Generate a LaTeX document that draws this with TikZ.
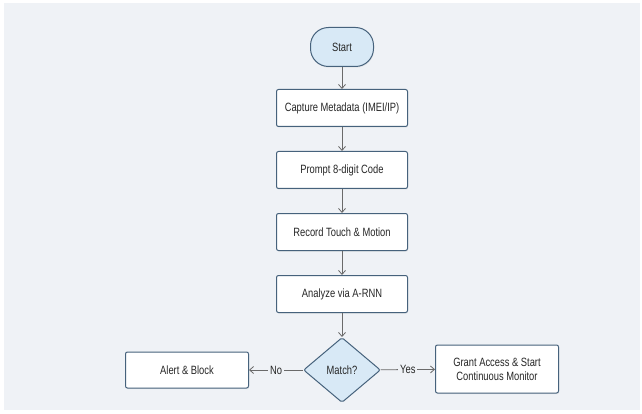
\documentclass[tikz,border=0pt]{standalone}
\usepackage{fontspec}
\setmainfont{Liberation Sans}[FakeStretch=0.78]
\usepackage{tikz}
\usetikzlibrary{shapes,arrows,arrows.meta,positioning,shadows}

\definecolor{bgcol}{HTML}{EFF2F6}
\definecolor{edgecol}{HTML}{46627C}
\definecolor{fillblue}{HTML}{D8E9F6}
\definecolor{txtcol}{HTML}{262626}
\definecolor{arrcol}{HTML}{6A6A6A}

\begin{document}
\begin{tikzpicture}[x=1pt, y=-1pt,
    every node/.style={text=txtcol, font=\fontsize{12}{14}\selectfont},
    stepbox/.style={rectangle, draw=edgecol, line width=1pt, fill=white, rounded corners=2pt,
        minimum width=131pt, minimum height=37pt, align=center,
        drop shadow={opacity=0.12, shadow xshift=0.6pt, shadow yshift=-1.2pt}},
    startbox/.style={rectangle, draw=edgecol, line width=1pt, fill=fillblue, rounded corners=18pt,
        minimum width=63pt, minimum height=39pt,
        drop shadow={opacity=0.12, shadow xshift=0.6pt, shadow yshift=-1.2pt}},
    decision/.style={diamond, draw=edgecol, line width=1pt, fill=fillblue, inner sep=0pt,
        minimum width=77pt, minimum height=65pt, rounded corners=2pt},
    flow/.style={-{Straight Barb[length=4pt, width=7pt]}, arrcol, line width=0.8pt},
    tag/.style={fill=bgcol, inner sep=2pt}
]
    % Background
    \useasboundingbox (0,0) rectangle (642,414);
    \fill[white] (0,0) rectangle (642,414);
    \fill[bgcol] (4,3) rectangle (640,410);

    % Define nodes
    \node[startbox] (start) at (342,47) {Start};
    \node[stepbox] (capture) at (342,108) {Capture Metadata (IMEI/IP)};
    \node[stepbox] (prompt) at (342,170) {Prompt 8-digit Code};
    \node[stepbox] (record) at (342,232) {Record Touch \& Motion};
    \node[stepbox] (analyze) at (342,294) {Analyze via A-RNN};
    \node[decision] (match) at (342,370) {Match?};
    \node[stepbox, minimum width=123pt, minimum height=36pt] (alert) at (187,370) {Alert \& Block};
    \node[stepbox, minimum width=123pt, minimum height=48pt] (grant) at (497,369)
        {Grant Access \& Start\\Continuous Monitor};

    % Main flow
    \draw[flow] (start) -- (capture);
    \draw[flow] (capture) -- (prompt);
    \draw[flow] (prompt) -- (record);
    \draw[flow] (record) -- (analyze);
    \draw[flow] (analyze) -- (match);

    % Branches
    \draw[flow] (match) -- node[tag] {No} (alert);
    \draw[flow] (match) -- node[tag] {Yes} (grant);
\end{tikzpicture}
\end{document}
